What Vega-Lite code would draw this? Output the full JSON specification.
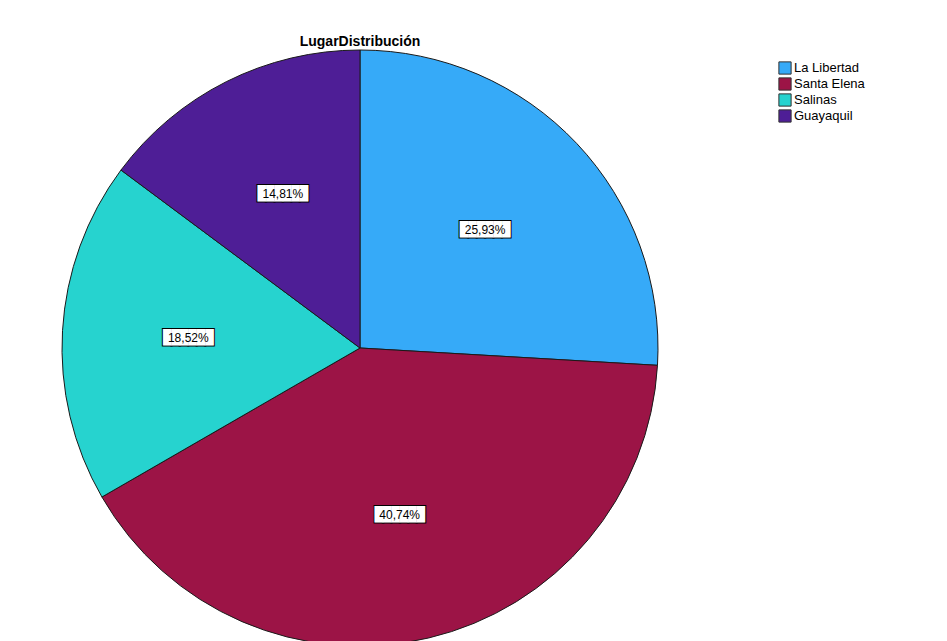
{
  "$schema": "https://vega.github.io/schema/vega-lite/v6.json",
  "autosize": "none",
  "padding": {"left": 0, "top": 53, "right": 227, "bottom": 0},
  "width": 720,
  "height": 590,
  "background": "white",
  "title": {"text": "LugarDistribución", "font": "Liberation Sans", "fontSize": 14, "fontWeight": "bold", "color": "#000000", "anchor": "middle", "frame": "group", "offset": -1},
  "data": {"values": [
    {"lugar": "La Libertad", "n": 7, "orden": 1, "pct": "25,93%"},
    {"lugar": "Santa Elena", "n": 11, "orden": 2, "pct": "40,74%"},
    {"lugar": "Salinas", "n": 5, "orden": 3, "pct": "18,52%"},
    {"lugar": "Guayaquil", "n": 4, "orden": 4, "pct": "14,81%"}
  ]},
  "encoding": {
    "theta": {"field": "n", "type": "quantitative", "stack": true},
    "order": {"field": "orden", "type": "quantitative"}
  },
  "layer": [
    {
      "mark": {"type": "arc", "outerRadius": 298, "stroke": "#1a1a1a", "strokeWidth": 1},
      "encoding": {
        "color": {"field": "lugar", "type": "nominal",
          "scale": {"domain": ["La Libertad", "Santa Elena", "Salinas", "Guayaquil"], "range": ["#36AAF8", "#9C1446", "#26D3CF", "#4E1E96"]},
          "legend": {"title": null, "orient": "none", "legendX": 778, "legendY": 8, "symbolType": "square", "symbolSize": 150, "symbolStrokeColor": "#333333", "symbolStrokeWidth": 1, "labelFont": "Liberation Sans", "labelFontSize": 13, "labelColor": "#000000", "rowPadding": -2, "labelOffset": 2}
        }
      }
    },
    {
      "mark": {"type": "text", "radius": 172, "text": "██████", "font": "DejaVu Sans Mono", "fontSize": 14, "fill": "#000000", "stroke": "#000000", "strokeWidth": 2}
    },
    {
      "mark": {"type": "text", "radius": 172, "text": "██████", "font": "DejaVu Sans Mono", "fontSize": 14, "fill": "#ffffff"}
    },
    {
      "mark": {"type": "text", "radius": 172, "font": "Liberation Sans", "fontSize": 12, "color": "#000000"},
      "encoding": {"text": {"field": "pct", "type": "nominal"}}
    }
  ]
}
